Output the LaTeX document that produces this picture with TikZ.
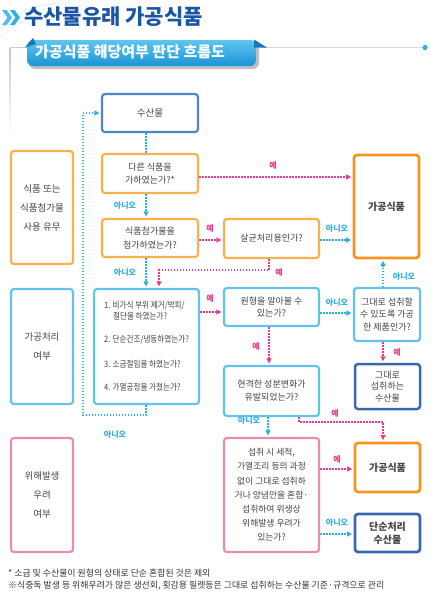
\documentclass[tikz,border=0pt]{standalone}
\usepackage{fontspec}
\setmainfont{Noto Sans CJK KR}
\newfontfamily\cond{Noto Sans CJK KR}[FakeStretch=0.86]
\usetikzlibrary{arrows.meta}
\definecolor{txt}{HTML}{444444}
\definecolor{orL}{HTML}{FAB14C}
\definecolor{orD}{HTML}{F7941E}
\definecolor{cyB}{HTML}{63C3EC}
\definecolor{blM}{HTML}{4E86C8}
\definecolor{blD}{HTML}{3A68B0}
\definecolor{pkB}{HTML}{E88DAE}
\definecolor{pkL}{HTML}{EC3A93}
\definecolor{cyL}{HTML}{2CB0E6}
\definecolor{titleC}{HTML}{1C55A5}
\definecolor{banTop}{HTML}{5CC6F0}
\definecolor{banBot}{HTML}{1B93D5}
\definecolor{banDark}{HTML}{1678B8}
\newcommand\fsz[2]{\fontsize{#1}{#2}\selectfont}
\tikzset{
  box/.style={draw, rounded corners=3pt, line width=2.2pt, fill=white, align=center,
    text=txt, inner sep=0pt, font=\fsz{9}{13.5}},
  yesline/.style={draw=pkL, line width=1.1pt, dash pattern=on 1.4pt off 1.6pt,
    -{Triangle[length=5pt,width=5pt]}, shorten >=1.5pt},
  noline/.style={draw=cyL, line width=1.1pt, dash pattern=on 1.4pt off 1.6pt,
    -{Triangle[length=5pt,width=5pt]}, shorten >=1.5pt},
  noplain/.style={draw=cyL, line width=1.1pt, dash pattern=on 1.4pt off 1.6pt},
  yeslab/.style={text=pkL, font=\fsz{8}{8}\bfseries, inner sep=0pt},
  nolab/.style={text=cyL, font=\fsz{8}{8}\bfseries, inner sep=0pt},
  foot/.style={anchor=west, inner sep=0pt, text=txt!80!black, font=\fsz{8.9}{9}},
}
\begin{document}
\begin{tikzpicture}[x=1pt,y=-1pt]
\useasboundingbox (0,0) rectangle (431,600);
\fill[white] (0,0) rectangle (431,600);
% faint swirl
\draw[cyB!12, line width=2pt] (0,30) .. controls (20,8) and (45,2) .. (70,4);
\draw[cyB!10, line width=1.5pt] (0,38) .. controls (25,14) and (50,10) .. (62,0);
% chevrons
\fill[cyL!85] (2,10) -- (6.5,10) -- (12,17.5) -- (6.5,25) -- (2,25) -- (7.5,17.5) -- cycle;
\fill[cyL] (10,10) -- (14.5,10) -- (20,17.5) -- (14.5,25) -- (10,25) -- (15.5,17.5) -- cycle;
\node[anchor=west, text=titleC, font=\fsz{21}{22}\bfseries, inner sep=0pt] (title) at (24,17) {수산물유래 가공식품};
% frame corner
\draw[gray!40, line width=0.7pt] (27,47.5) -- (10,47.5);
\shade[top color=gray!45, bottom color=white] (9.6,47.5) rectangle (10.6,135);
% right line and dot
\draw[gray!30, line width=0.8pt] (262,47.5) -- (424,47.5);
\fill[cyL] (425,47.5) circle (2.6);
% banner
\fill[gray!50, rounded corners=6pt] (29,44) rectangle (259,69);
\shade[top color=banTop, bottom color=banBot, rounded corners=6pt] (27,40) rectangle (256,66);
\fill[banDark] (25,47.5) -- (33,38) -- (36,44) -- cycle;
\fill[banDark] (254,39.5) -- (267,47.5) -- (254,47.5) -- cycle;
\node[anchor=west, text=white, font=\fsz{15}{16}\bfseries, inner sep=0pt] (banner) at (35,51.5) {가공식품 해당여부 판단 흐름도};

% left labels
\node[box, draw=orL, minimum width=62pt, minimum height=113pt, font=\fsz{9.5}{19}] (L1) at (42,207.5) {식품 또는\\식품첨가물\\사용 유무};
\node[box, draw=cyB, minimum width=62pt, minimum height=115pt, font=\fsz{9.5}{18.5}] (L2) at (42,346.5) {가공처리\\여부};
\node[box, draw=pkB, minimum width=62pt, minimum height=114pt, font=\fsz{9.5}{19}] (L3) at (42,495) {위해발생\\우려\\여부};

% column 2
\node[box, draw=blM, minimum width=96pt, minimum height=38pt, font=\fsz{9.5}{12}] (sansan) at (150,113) {수산물};
\node[box, draw=orL, minimum width=96pt, minimum height=39pt] (q1) at (150,173.5) {다른 식품을\\가하였는가?*};
\node[box, draw=orL, minimum width=96pt, minimum height=38pt] (q2) at (150,238) {식품첨가물을\\첨가하였는가?};
\node[box, draw=cyB, minimum width=105pt, minimum height=115pt, align=left, font=\cond\fsz{8.8}{11}] (steps) at (146.5,346.5)
  {1. 비가식 부위 제거/박피/\\\hspace*{9pt}절단을 하였는가?\\[12pt]2. 단순건조/냉동하였는가?\\[14pt]3. 소금절임을 하였는가?\\[12pt]4. 가열공정을 거쳤는가?};

% column 3
\node[box, draw=orL, minimum width=95pt, minimum height=39pt] (q3) at (271.5,238.5) {살균처리용인가?};
\node[box, draw=cyB, minimum width=95pt, minimum height=38pt, font=\fsz{9}{12.5}] (q4) at (271.5,307) {원형을 알아볼 수\\있는가?};
\node[box, draw=cyB, minimum width=95pt, minimum height=50pt, font=\fsz{9}{13}] (q6) at (271.5,391) {현격한 성분변화가\\유발되었는가?};
\node[box, draw=pkB, minimum width=95pt, minimum height=114pt, font=\fsz{8.8}{14.2}] (q7) at (271.5,495)
  {섭취 시 세척,\\가열조리 등의 과정\\없이 그대로 섭취하\\거나 양념만을 혼합·\\섭취하여 위생상\\위해발생 우려가\\있는가?};

% column 4
\node[box, draw=orD, line width=2.7pt, minimum width=65pt, minimum height=103pt, font=\fsz{10}{12}\bfseries] (P1) at (386.5,206.5) {가공식품};
\node[box, draw=cyB, minimum width=66pt, minimum height=53pt, font=\fsz{9}{12.3}] (q5) at (387,314.5) {그대로 섭취할\\수 있도록 가공\\한 제품인가?};
\node[box, draw=blD, line width=2.5pt, minimum width=65pt, minimum height=45pt, font=\fsz{9}{11.5}] (R1) at (387.5,386.5) {그대로\\섭취하는\\수산물};
\node[box, draw=orD, line width=2.7pt, minimum width=65pt, minimum height=49pt, font=\fsz{10}{12}\bfseries] (P2) at (387.5,467.5) {가공식품};
\node[box, draw=blD, line width=2.7pt, minimum width=65pt, minimum height=38pt, font=\fsz{10}{13}\bfseries] (R2) at (387.5,533) {단순처리\\수산물};

% connectors
\draw[noplain] (sansan.south -| 146,0) -- (q1.north -| 146,0);
\draw[yesline] (q1.east |- 0,177) -- (P1.west |- 0,177);
\draw[noline] (q1.south -| 146,0) -- (q2.north -| 146,0);
\draw[yesline] (q2.east |- 0,240) -- (q3.west |- 0,240);
\draw[noline] (q3.east |- 0,240) -- (P1.west |- 0,240);
\draw[noline] (q2.south -| 146,0) -- (steps.north -| 146,0);
\draw[yesline] (q3.south -| 269,0) |- (159,270) -- (steps.north -| 159,0);
\draw[noline] (steps.south -| 146,0) |- (83,415) |- (sansan.west);
\draw[yesline] (steps.east |- 0,312) -- (q4.west |- 0,312);
\draw[noline] (q4.east |- 0,313) -- (q5.west |- 0,313);
\draw[noline] (q5.north -| 383,0) -- (P1.south -| 383,0);
\draw[yesline] (q5.south -| 383,0) -- (R1.north -| 383,0);
\draw[yesline] (q4.south -| 269,0) -- (q6.north -| 269,0);
\draw[noline] (q6.south -| 268,0) -- (q7.north -| 268,0);
\draw[yesline] (q6.south -| 299,0) |- (383,422) -- (P2.north -| 383,0);
\draw[yesline] (q7.east |- 0,469) -- (P2.west |- 0,469);
\draw[noline] (q7.east |- 0,534) -- (R2.west |- 0,534);

% labels
\node[yeslab] (ly1) at (273,165) {예};
\node[nolab] (ln1) at (125,205) {아니오};
\node[yeslab] (ly2) at (210,228) {예};
\node[nolab] (ln2) at (337,228) {아니오};
\node[nolab] (ln3) at (125,272) {아니오};
\node[yeslab] (ly3) at (279,272) {예};
\node[nolab] (ln4) at (115,434) {아니오};
\node[yeslab] (ly4) at (210,298) {예};
\node[nolab] (ln5) at (337,302) {아니오};
\node[nolab] (ln6) at (404,276) {아니오};
\node[yeslab] (ly5) at (397,352) {예};
\node[yeslab] (ly6) at (256,346) {예};
\node[nolab] (ln7) at (249,420) {아니오};
\node[yeslab] (ly7) at (335,413) {예};
\node[yeslab] (ly8) at (337,459) {예};
\node[nolab] (ln8) at (337,522) {아니오};

% footnotes
\node[foot] (fn1) at (8,573) {* 소금 및 수산물이 원형의 상태로 단순 혼합된 것은 제외};
\node[foot] (fn2) at (8,586) {※식중독 발생 등 위해우려가 많은 생선회, 횟감용 필렛등은 그대로 섭취하는 수산물 기준·규격으로 관리};
\end{tikzpicture}
\end{document}
